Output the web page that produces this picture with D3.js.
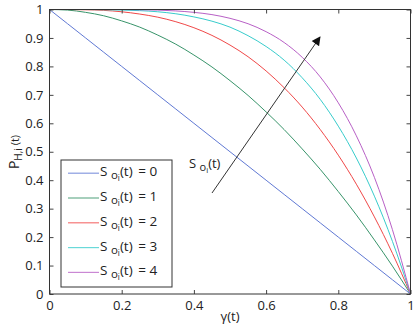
<!DOCTYPE html>
<html>
<head>
<meta charset="utf-8">
<script src="https://cdn.jsdelivr.net/npm/d3@7"></script>
<style>
  body { margin: 0; background: #fff; }
  text { font-family: "Open Sans", "DejaVu Sans", sans-serif; fill: #222; }
</style>
</head>
<body>
<script>
// gamma(t) grid
let gamma = [0, 0.05, 0.1, 0.15, 0.2, 0.25, 0.3, 0.35, 0.4, 0.45, 0.5,
  0.55, 0.6, 0.65, 0.7, 0.75, 0.8, 0.85, 0.9, 0.95, 1]

// P_H,i(t), one array per S_oi(t)
let s0 = [1, 0.95, 0.9, 0.85, 0.8, 0.75, 0.7, 0.65, 0.6, 0.55, 0.5,
  0.45, 0.4, 0.35, 0.3, 0.25, 0.2, 0.15, 0.1, 0.05, 0]
let s1 = [1, 0.998, 0.99, 0.978, 0.96, 0.938, 0.91, 0.878, 0.84, 0.798, 0.75,
  0.698, 0.64, 0.578, 0.51, 0.438, 0.36, 0.278, 0.19, 0.098, 0]
let s2 = [1, 1, 0.999, 0.997, 0.992, 0.984, 0.973, 0.957, 0.936, 0.909, 0.875,
  0.834, 0.784, 0.725, 0.657, 0.578, 0.488, 0.386, 0.271, 0.143, 0]
let s3 = [1, 1, 1, 0.999, 0.998, 0.996, 0.992, 0.985, 0.974, 0.959, 0.938,
  0.908, 0.87, 0.822, 0.76, 0.684, 0.59, 0.478, 0.344, 0.185, 0]
let s4 = [1, 1, 1, 1, 1, 0.999, 0.998, 0.995, 0.99, 0.982, 0.969,
  0.95, 0.922, 0.884, 0.832, 0.763, 0.672, 0.556, 0.41, 0.226, 0]

let seriesNames = ['0', '1', '2', '3', '4']
let seriesValues = [s0, s1, s2, s3, s4]
let colors = ['#6079d4', '#38946a', '#f04848', '#38cccc', '#b860c6']

let xTicks = [0, 0.2, 0.4, 0.6, 0.8, 1]
let yTicks = [0, 0.1, 0.2, 0.3, 0.4, 0.5, 0.6, 0.7, 0.8, 0.9, 1]

let w = 415, h = 329
let mLeft = 49.5, mRight = 410.5, mTop = 9.5, mBottom = 294

let svg = d3.select('body')
  .append('svg')
  .attr('width', w)
  .attr('height', h)

let x = d3.scaleLinear().domain([0, 1]).range([mLeft, mRight])
let y = d3.scaleLinear().domain([0, 1]).range([mBottom, mTop])

// curves
let line = d3.line()
  .x(function (d, i) { return x(gamma[i]) })
  .y(function (d) { return y(d) })
  .curve(d3.curveMonotoneX)

svg.selectAll('path.curve')
  .data(seriesValues)
  .enter()
  .append('path')
  .attr('class', 'curve')
  .attr('fill', 'none')
  .attr('stroke', function (d, i) { return colors[i] })
  .attr('stroke-width', 1)
  .attr('d', line)

// axes box, ticks inward on all sides
function styleAxis(g) {
  g.select('.domain').remove()
  g.selectAll('.tick line').attr('stroke', '#444')
  g.selectAll('.tick text')
    .attr('font-size', 13)
    .attr('font-family', '"Open Sans", "DejaVu Sans", sans-serif')
    .attr('fill', '#222')
}

svg.append('g')
  .attr('transform', 'translate(0,' + mBottom + ')')
  .call(d3.axisBottom(x).tickValues(xTicks).tickSize(-4).tickPadding(7)
    .tickFormat(d3.format('')))
  .call(styleAxis)

svg.append('g')
  .attr('transform', 'translate(0,' + mTop + ')')
  .call(d3.axisTop(x).tickValues(xTicks).tickSize(-4).tickFormat(''))
  .call(styleAxis)

svg.append('g')
  .attr('transform', 'translate(' + mLeft + ',0)')
  .call(d3.axisLeft(y).tickValues(yTicks).tickSize(-4).tickPadding(6)
    .tickFormat(d3.format('')))
  .call(styleAxis)

svg.append('g')
  .attr('transform', 'translate(' + mRight + ',0)')
  .call(d3.axisRight(y).tickValues(yTicks).tickSize(-4).tickFormat(''))
  .call(styleAxis)

svg.append('rect')
  .attr('x', mLeft)
  .attr('y', mTop)
  .attr('width', mRight - mLeft)
  .attr('height', mBottom - mTop)
  .attr('fill', 'none')
  .attr('stroke', '#333')
  .attr('stroke-width', 1)

// axis labels
svg.append('text')
  .attr('x', x(0.5))
  .attr('y', 321)
  .attr('text-anchor', 'middle')
  .attr('font-size', 13)
  .text('γ(t)')

let ylab = svg.append('text')
  .attr('transform', 'translate(19,152) rotate(-90)')
  .attr('text-anchor', 'middle')
  .attr('font-size', 14)
ylab.append('tspan').text('P')
ylab.append('tspan').attr('font-size', 10).attr('dy', 3).text('H,i')
ylab.append('tspan').attr('font-size', 11).attr('dy', -3).text(' (t)')

// S_oi(t) label builder
function soLabel(t, size) {
  t.append('tspan').text('S ')
  t.append('tspan').attr('font-size', size * 0.85).attr('dy', 3).text('o')
  t.append('tspan').attr('font-size', size * 0.6).attr('dy', 2).text('i')
  t.append('tspan').attr('dy', -5).text('(t)')
}

// arrow
svg.append('defs').append('marker')
  .attr('id', 'head')
  .attr('viewBox', '0 0 10 10')
  .attr('refX', 9).attr('refY', 5)
  .attr('markerWidth', 10).attr('markerHeight', 9)
  .attr('markerUnits', 'userSpaceOnUse')
  .attr('orient', 'auto')
  .append('path')
  .attr('d', 'M0,0 L10,5 L0,10 Z')
  .attr('fill', '#111')

svg.append('line')
  .attr('x1', 212).attr('y1', 193)
  .attr('x2', 320).attr('y2', 37)
  .attr('stroke', '#333')
  .attr('stroke-width', 1)
  .attr('marker-end', 'url(#head)')

let arrowLabel = svg.append('text')
  .attr('x', 189).attr('y', 168)
  .attr('font-size', 13)
soLabel(arrowLabel, 13)

// legend
svg.append('rect')
  .attr('x', 61).attr('y', 160)
  .attr('width', 111).attr('height', 127)
  .attr('fill', '#fff')
  .attr('stroke', '#333')
  .attr('stroke-width', 1)

let items = svg.selectAll('g.item')
  .data(seriesNames)
  .enter()
  .append('g')
  .attr('class', 'item')
  .attr('transform', function (d, i) { return 'translate(0,' + (173.2 + i * 24.8) + ')' })

items.append('line')
  .attr('x1', 68).attr('x2', 99)
  .attr('stroke', function (d, i) { return colors[i] })
  .attr('stroke-width', 1.2)
  .attr('stroke-opacity', 0.75)

items.append('text')
  .attr('x', 100)
  .attr('y', 3)
  .attr('font-size', 13.5)
  .each(function (d) {
    let t = d3.select(this)
    soLabel(t, 13.5)
    t.append('tspan').attr('dx', 2).text(' = ' + d)
  })
</script>
</body>
</html>
